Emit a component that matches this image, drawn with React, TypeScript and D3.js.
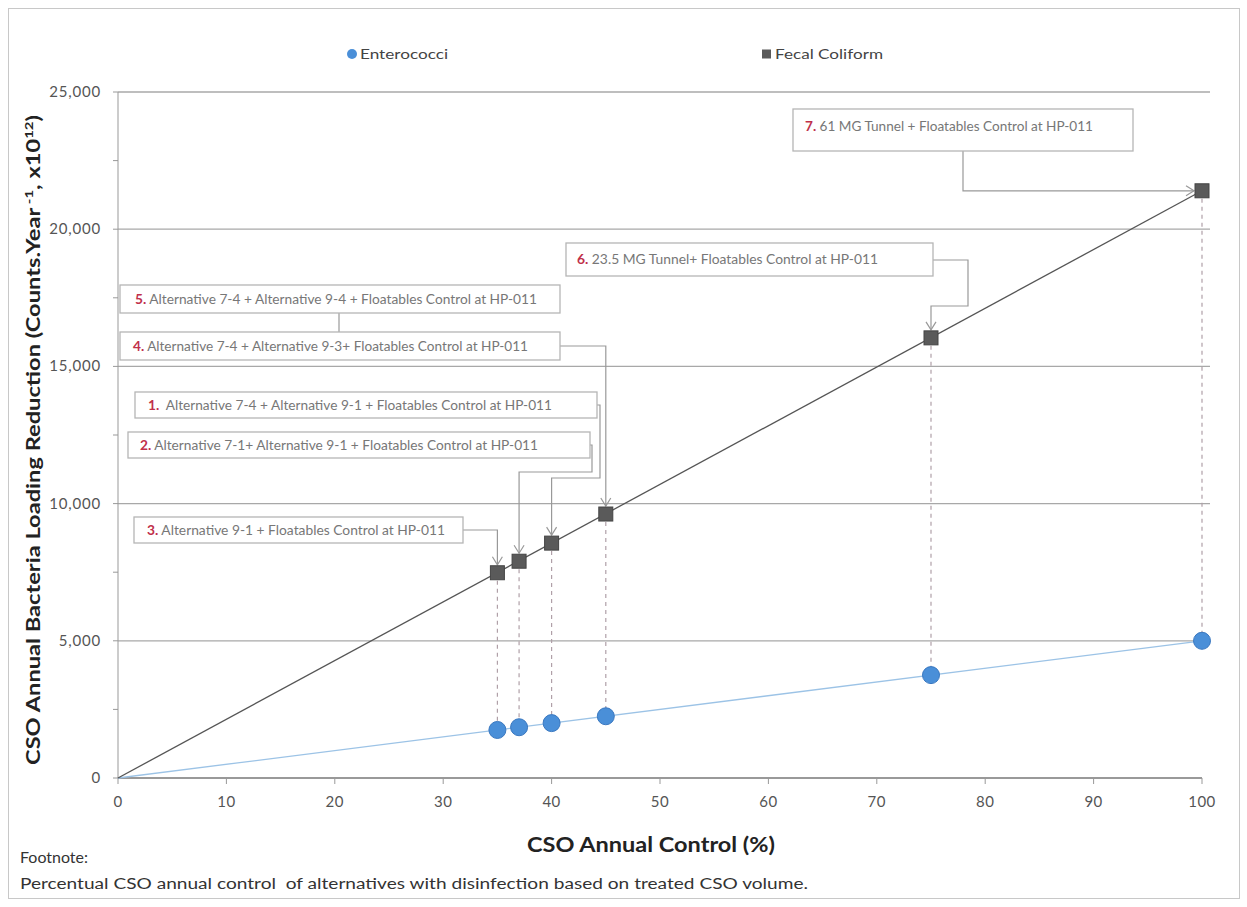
import React from "react";
import * as d3 from "d3";

const controlPct = [35, 37, 40, 45, 75, 100];
const fecalColiform = [7480, 7900, 8560, 9620, 16040, 21400];
const enterococci = [1750, 1850, 2000, 2250, 3750, 5000];
const fecalTrend = [[0, 0], [100, 21400]];
const enteroTrend = [[0, 0], [100, 5000]];
const yTicks = [0, 5000, 10000, 15000, 20000, 25000];
const xTicks = [0, 10, 20, 30, 40, 50, 60, 70, 80, 90, 100];

const annoNums = ["7.", "6.", "5.", "4.", "1.", "2.", "3."];
const annoTexts = [
  " 61 MG Tunnel + Floatables Control at HP-011",
  " 23.5 MG Tunnel+ Floatables Control at HP-011",
  " Alternative 7-4 + Alternative 9-4 + Floatables Control at HP-011",
  " Alternative 7-4 + Alternative 9-3+ Floatables Control at HP-011",
  "  Alternative 7-4 + Alternative 9-1 + Floatables Control at HP-011",
  " Alternative 7-1+ Alternative 9-1 + Floatables Control at HP-011",
  " Alternative 9-1 + Floatables Control at HP-011",
];

const FONT = "Lato, 'Open Sans', sans-serif";

export default function App() {
  const left = 118, right = 1202, top = 92, bottom = 778;
  const x = d3.scaleLinear().domain([0, 100]).range([left, right]);
  const y = d3.scaleLinear().domain([0, 25000]).range([bottom, top]);
  const line = d3.line<number[]>().x((d) => x(d[0])).y((d) => y(d[1]));
  const fmt = d3.format(",");

  const boxes = [
    { x0: 793, x1: 1133, y0: 109, y1: 151, tx: 805, tl: 288 },
    { x0: 566, x1: 933, y0: 243, y1: 276, tx: 577, tl: 301 },
    { x0: 120, x1: 560, y0: 285, y1: 313, tx: 135, tl: 402 },
    { x0: 120, x1: 560, y0: 332, y1: 360, tx: 133, tl: 395 },
    { x0: 135, x1: 597, y0: 392, y1: 418, tx: 148, tl: 404 },
    { x0: 128, x1: 590, y0: 432, y1: 458, tx: 140, tl: 398 },
    { x0: 134, x1: 463, y0: 517, y1: 543, tx: 147, tl: 298 },
  ];

  const px = (i: number) => x(controlPct[i]);
  const py = (i: number) => y(fecalColiform[i]);

  const connectors: string[] = [
    `M963,151 V${py(5)} H${px(5) - 8}`,
    `M933,260 H968 V306 H${px(4)} V${py(4) - 8}`,
    `M339,313 V332`,
    `M560,346 H${px(3)} V${py(3) - 8}`,
    `M597,405 H600 V478 H${px(2)} V${py(2) - 8}`,
    `M590,445 H592 V472 H${px(1)} V${py(1) - 8}`,
    `M463,530 H${px(0)} V${py(0) - 8}`,
  ];
  const arrowTips: [number, number, "down" | "right"][] = [
    [px(5) - 8, py(5), "right"],
    [px(4), py(4) - 8, "down"],
    [px(3), py(3) - 8, "down"],
    [px(2), py(2) - 8, "down"],
    [px(1), py(1) - 8, "down"],
    [px(0), py(0) - 8, "down"],
  ];

  return (
    <svg width={1247} height={907} style={{ position: "absolute", left: 0, top: 0, fontFamily: FONT }}>
      <rect x={0} y={0} width={1247} height={907} fill="#fff" />
      <rect x={8.5} y={8.5} width={1231} height={890} fill="none" stroke="#c8c8c8" />

      {yTicks.slice(1).map((t) => (
        <line key={t} x1={left} x2={1210} y1={y(t)} y2={y(t)} stroke="#a8a8a8" strokeWidth={1.3} />
      ))}

      <line x1={left} x2={left} y1={top} y2={bottom} stroke="#999" />
      {d3.range(0, 25001, 2500).map((t) => (
        <line key={t} x1={left - 5} x2={left} y1={y(t)} y2={y(t)} stroke="#999" />
      ))}
      <line x1={left} x2={right} y1={bottom} y2={bottom} stroke="#999" strokeWidth={2} />
      {xTicks.map((t) => (
        <line key={t} x1={x(t)} x2={x(t)} y1={bottom} y2={bottom + 6} stroke="#999" />
      ))}
      {yTicks.map((t) => (
        <text key={t} x={101} y={y(t) + 5} textAnchor="end" fontSize={15} letterSpacing={0.8} fill="#555">
          {fmt(t)}
        </text>
      ))}
      {xTicks.map((t) => (
        <text key={t} x={x(t)} y={bottom + 29} textAnchor="middle" fontSize={15} letterSpacing={0.5} fill="#555">
          {t}
        </text>
      ))}

      <path d={line(enteroTrend) || ""} stroke="#9cc3e6" strokeWidth={1.3} fill="none" />
      <path d={line(fecalTrend) || ""} stroke="#555" strokeWidth={1.3} fill="none" />

      {controlPct.map((c, i) => (
        <line key={c} x1={x(c)} x2={x(c)} y1={y(fecalColiform[i])} y2={y(enterococci[i])}
          stroke="#b0a0a8" strokeWidth={1.2} strokeDasharray="4,4" />
      ))}

      {connectors.map((d, i) => (
        <path key={i} d={d} stroke="#999" strokeWidth={1.2} fill="none" />
      ))}
      {arrowTips.map(([ax, ay, dir], i) => (
        <path key={i}
          d={dir === "down" ? `M${ax - 5},${ay - 8} L${ax},${ay} L${ax + 5},${ay - 8}` : `M${ax - 8},${ay - 5} L${ax},${ay} L${ax - 8},${ay + 5}`}
          stroke="#999" strokeWidth={1.2} fill="none" />
      ))}

      {boxes.map((b, i) => (
        <g key={i}>
          <rect x={b.x0} y={b.y0} width={b.x1 - b.x0} height={b.y1 - b.y0} fill="#fff" stroke="#b5b5b5" strokeWidth={1.3} />
          <text x={b.tx} y={i === 0 ? b.y0 + 22 : (b.y0 + b.y1) / 2 + 4.5} fontSize={12.5} fill="#777"
            textLength={b.tl} lengthAdjust="spacingAndGlyphs" style={{ whiteSpace: "pre" }}>
            <tspan fill="#c0304a" fontWeight="bold">{annoNums[i]}</tspan>
            <tspan>{annoTexts[i]}</tspan>
          </text>
        </g>
      ))}

      {controlPct.map((c, i) => (
        <circle key={c} cx={x(c)} cy={y(enterococci[i])} r={8.5} fill="#4a8fd8" stroke="#3a78c0" strokeWidth={1} />
      ))}
      {controlPct.map((c, i) => (
        <rect key={c} x={x(c) - 7} y={y(fecalColiform[i]) - 7} width={14} height={14} fill="#5a5a5a" stroke="#444" />
      ))}

      <circle cx={352} cy={54} r={5} fill="#4a8fd8" />
      <text x={360} y={59} fontSize={14} fill="#444" textLength={88} lengthAdjust="spacingAndGlyphs">Enterococci</text>
      <rect x={762} y={49.5} width={9} height={9} fill="#5a5a5a" />
      <text x={775} y={59} fontSize={14} fill="#444" textLength={108} lengthAdjust="spacingAndGlyphs">Fecal Coliform</text>

      <text transform="translate(40,440) rotate(-90)" textAnchor="middle" fontSize={19} fontWeight="bold" fill="#222"
        textLength={650} lengthAdjust="spacingAndGlyphs">
        CSO Annual Bacteria Loading Reduction (Counts.Year<tspan baselineShift="super" fontSize={12}> -1</tspan>, x10<tspan baselineShift="super" fontSize={12}>12</tspan>)
      </text>
      <text x={651} y={852} textAnchor="middle" fontSize={21} fontWeight="bold" fill="#222" textLength={248} lengthAdjust="spacingAndGlyphs">CSO Annual Control (%)</text>

      <text x={20} y={863} fontSize={14.5} fill="#333" textLength={68} lengthAdjust="spacingAndGlyphs">Footnote:</text>
      <text x={20} y={889} fontSize={14.5} fill="#333" textLength={788} lengthAdjust="spacingAndGlyphs" style={{ whiteSpace: "pre" }}>Percentual CSO annual control  of alternatives with disinfection based on treated CSO volume.</text>
    </svg>
  );
}
